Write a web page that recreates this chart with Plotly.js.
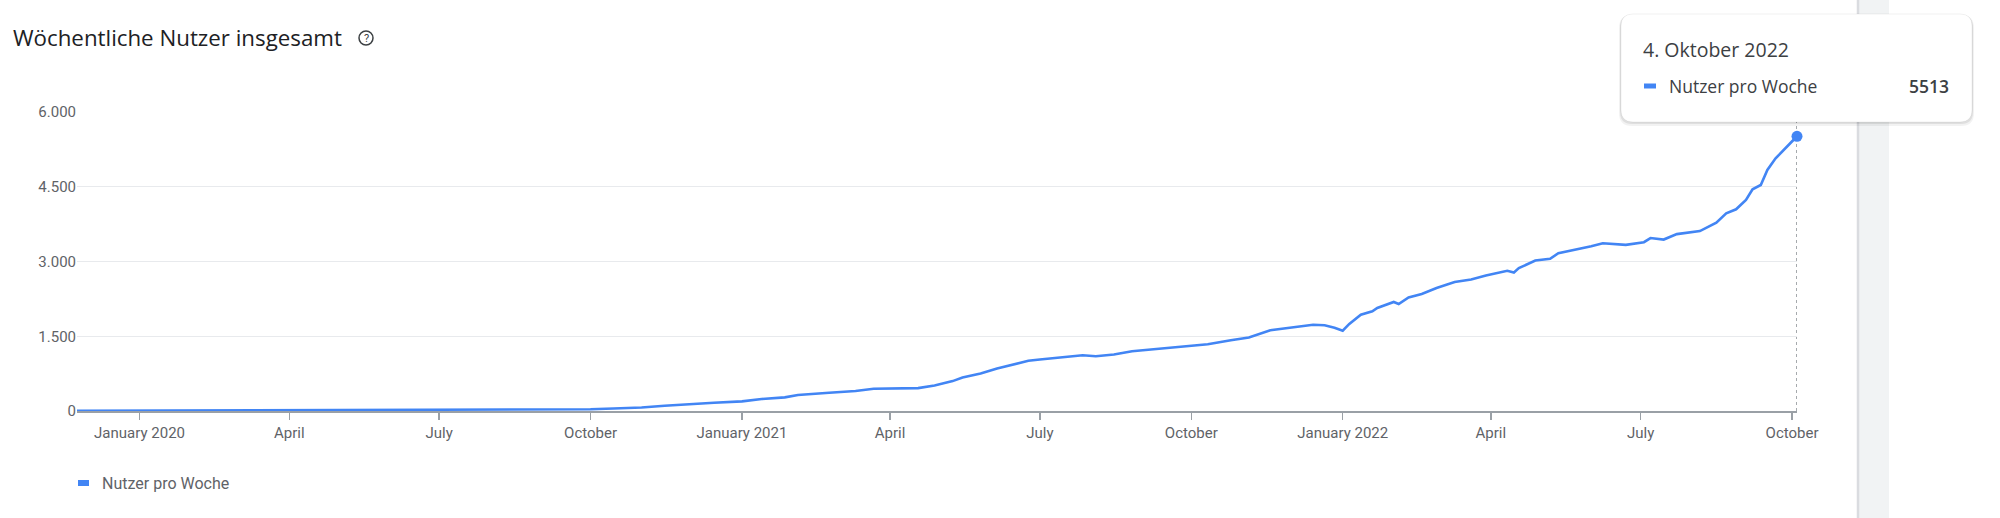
<!DOCTYPE html>
<html>
<head>
<meta charset="utf-8">
<script src="https://cdn.plot.ly/plotly-3.0.1.min.js"></script>
<style>
  html, body { margin: 0; padding: 0; background: #ffffff; }
  #chart { width: 2000px; height: 518px; }
</style>
</head>
<body>
<div id="chart"></div>
<script>
// Readings taken off the GA chart (7-day users)
var dates = [
    '2019-11-24', '2019-12-15', '2020-01-01', '2020-02-01', '2020-03-01', '2020-04-01', '2020-05-01', '2020-06-01',
    '2020-07-01', '2020-08-01', '2020-09-01', '2020-10-01', '2020-10-15', '2020-11-01', '2020-11-15', '2020-12-01',
    '2020-12-15', '2021-01-01', '2021-01-13', '2021-01-27', '2021-02-04', '2021-02-23', '2021-03-11', '2021-03-22',
    '2021-04-01', '2021-04-18', '2021-04-28', '2021-05-09', '2021-05-15', '2021-05-26', '2021-06-05', '2021-06-16',
    '2021-06-24', '2021-07-01', '2021-07-16', '2021-07-27', '2021-08-04', '2021-08-15', '2021-08-26', '2021-09-14',
    '2021-10-01', '2021-10-11', '2021-10-25', '2021-11-05', '2021-11-18', '2021-11-29', '2021-12-06', '2021-12-14',
    '2021-12-21', '2021-12-27', '2022-01-01', '2022-01-05', '2022-01-12', '2022-01-19', '2022-01-22', '2022-02-01',
    '2022-02-04', '2022-02-10', '2022-02-18', '2022-02-27', '2022-03-10', '2022-03-20', '2022-03-29', '2022-04-11',
    '2022-04-15', '2022-04-18', '2022-04-28', '2022-05-07', '2022-05-12', '2022-05-22', '2022-06-01', '2022-06-08',
    '2022-06-22', '2022-07-03', '2022-07-07', '2022-07-15', '2022-07-23', '2022-08-06', '2022-08-10', '2022-08-16',
    '2022-08-22', '2022-08-28', '2022-09-03', '2022-09-07', '2022-09-12', '2022-09-16', '2022-09-21', '2022-09-26',
    '2022-10-04'
];

var usersPerWeek = [
    5, 6, 8, 10, 12, 15, 14, 20,
    28, 26, 25, 35, 50, 70, 105, 140,
    165, 193, 240, 273, 320, 367, 400, 447,
    453, 460, 513, 600, 673, 753, 853, 940,
    1007, 1033, 1087, 1120, 1100, 1133, 1200, 1253,
    1307, 1340, 1420, 1473, 1620, 1667, 1700, 1730,
    1720, 1670, 1610, 1747, 1933, 2000, 2067, 2187,
    2147, 2280, 2347, 2467, 2587, 2640, 2720, 2813,
    2780, 2867, 3020, 3053, 3167, 3233, 3307, 3367,
    3333, 3387, 3470, 3440, 3550, 3610, 3680, 3780,
    3967, 4048, 4235, 4449, 4536, 4837, 5071, 5238,
    5513
];

var tickDates = [ '2020-01-01', '2020-04-01', '2020-07-01', '2020-10-01', '2021-01-01', '2021-04-01',
                  '2021-07-01', '2021-10-01', '2022-01-01', '2022-04-01', '2022-07-01', '2022-10-01' ];
var tickLabels = [ 'January 2020', 'April', 'July', 'October', 'January 2021', 'April',
                   'July', 'October', 'January 2022', 'April', 'July', 'October' ];

var yTicks = [ 0, 1500, 3000, 4500, 6000 ];
var seriesName = 'Nutzer pro Woche';
var chartTitle = 'Wöchentliche Nutzer insgesamt';
var monthsDe = [ 'Januar', 'Februar', 'März', 'April', 'Mai', 'Juni', 'Juli', 'August',
                 'September', 'Oktober', 'November', 'Dezember' ];

var BLUE = '#4285f4';
var GREY_TEXT = '#5f6368';

// plot box in page pixels
var PL = 77, PR = 1797, PT = 112, PB = 411;

function px( x ) {
    return ( x - PL ) / ( PR - PL );
}

function py( y ) {
    return ( PB - y ) / ( PB - PT );
}

function roundedRect( x0, y0, x1, y1, r ) {
    let p = function ( x, y ) { return px( x ) + ',' + py( y ); };
    return 'M' + p( x0 + r, y0 ) + ' L' + p( x1 - r, y0 ) + ' Q' + p( x1, y0 ) + ' ' + p( x1, y0 + r ) +
           ' L' + p( x1, y1 - r ) + ' Q' + p( x1, y1 ) + ' ' + p( x1 - r, y1 ) +
           ' L' + p( x0 + r, y1 ) + ' Q' + p( x0, y1 ) + ' ' + p( x0, y1 - r ) +
           ' L' + p( x0, y0 + r ) + ' Q' + p( x0, y0 ) + ' ' + p( x0 + r, y0 ) + ' Z';
}

function paperShape( extra ) {
    return Object.assign( { xref: 'paper', yref: 'paper', layer: 'above' }, extra );
}

var lastDate = dates[ dates.length - 1 ];
var lastValue = usersPerWeek[ usersPerWeek.length - 1 ];
var d = lastDate.split( '-' );
var tooltipTitle = parseInt( d[ 2 ], 10 ) + '. ' + monthsDe[ parseInt( d[ 1 ], 10 ) - 1 ] + ' ' + d[ 0 ];

var lineTrace = {
    x: dates,
    y: usersPerWeek,
    type: 'scatter',
    mode: 'lines',
    name: seriesName,
    line: { color: BLUE, width: 2.6 },
    cliponaxis: false,
    hoverinfo: 'skip'
};

var pointTrace = {
    x: [ lastDate ],
    y: [ lastValue ],
    type: 'scatter',
    mode: 'markers',
    marker: { color: BLUE, size: 11 },
    cliponaxis: false,
    hoverinfo: 'skip'
};

var shapes = [
    // scrollbar strip of the page
    paperShape({ type: 'rect', x0: px( 1857 ), x1: px( 1889 ), y0: py( 0 ), y1: py( 518 ),
                 fillcolor: '#f1f3f4', line: { width: 0 } }),
    paperShape({ type: 'line', x0: px( 1858 ), x1: px( 1858 ), y0: py( 0 ), y1: py( 518 ),
                 line: { color: '#dadce0', width: 2.5 } }),
    // hover guide
    { type: 'line', xref: 'x', yref: 'paper', x0: lastDate, x1: lastDate, y0: 0, y1: 1, layer: 'below',
      line: { color: '#80868b', width: 1.4, dash: 'dot' } },
    // help icon after the title
    paperShape({ type: 'circle', x0: px( 359 ), x1: px( 373 ), y0: py( 31 ), y1: py( 45 ),
                 line: { color: '#3c4043', width: 1.5 } }),
    // legend swatch
    paperShape({ type: 'line', x0: px( 78 ), x1: px( 89 ), y0: py( 483 ), y1: py( 483 ),
                 line: { color: BLUE, width: 6 } }),
    // tooltip shadow + box
    paperShape({ type: 'path', path: roundedRect( 1619, 15, 1974, 126, 13 ),
                 fillcolor: 'rgba(0,0,0,0.05)', line: { width: 0 } }),
    paperShape({ type: 'path', path: roundedRect( 1620, 15, 1973, 124, 12 ),
                 fillcolor: 'rgba(0,0,0,0.08)', line: { width: 0 } }),
    paperShape({ type: 'path', path: roundedRect( 1621, 14, 1972, 122, 12 ),
                 fillcolor: '#ffffff', line: { color: 'rgba(0,0,0,0.06)', width: 1 } }),
    paperShape({ type: 'line', x0: px( 1644 ), x1: px( 1656 ), y0: py( 86 ), y1: py( 86 ),
                 line: { color: BLUE, width: 5 } })
];

var annotations = [
    { xref: 'paper', yref: 'paper', x: px( 366 ), y: py( 38.5 ), text: '?', showarrow: false,
      font: { family: 'Roboto', size: 11, color: '#3c4043' }, xanchor: 'center', yanchor: 'middle' },
    { xref: 'paper', yref: 'paper', x: px( 100 ), y: py( 483 ), text: seriesName, showarrow: false,
      font: { family: 'Roboto', size: 16, color: GREY_TEXT }, xanchor: 'left', yanchor: 'middle' },
    { xref: 'paper', yref: 'paper', x: px( 1641 ), y: py( 50 ), text: tooltipTitle, showarrow: false,
      font: { family: 'Open Sans', size: 19.5, color: '#3c4043' }, xanchor: 'left', yanchor: 'middle' },
    { xref: 'paper', yref: 'paper', x: px( 1667 ), y: py( 86 ), text: seriesName, showarrow: false,
      font: { family: 'Open Sans', size: 17.5, color: '#3c4043' }, xanchor: 'left', yanchor: 'middle' },
    { xref: 'paper', yref: 'paper', x: px( 1951 ), y: py( 86 ), text: String( lastValue ), showarrow: false,
      font: { family: 'Open Sans', size: 17.5, color: '#3c4043', weight: 600 }, xanchor: 'right', yanchor: 'middle' }
];

var layout = {
    width: 2000,
    height: 518,
    margin: { l: PL, r: 2000 - PR, t: PT, b: 518 - PB, pad: 0 },
    paper_bgcolor: '#ffffff',
    plot_bgcolor: '#ffffff',
    separators: ',.',
    showlegend: false,
    title: {
        text: chartTitle,
        xref: 'container', yref: 'container',
        x: 13 / 2000, xanchor: 'left',
        y: 1 - 38 / 518, yanchor: 'middle',
        font: { family: 'Open Sans', size: 22.3, color: '#202124' }
    },
    xaxis: {
        type: 'date',
        range: [ dates[ 0 ], lastDate ],
        tickmode: 'array',
        tickvals: tickDates,
        ticktext: tickLabels,
        ticks: 'outside',
        ticklen: 7,
        tickwidth: 1.3,
        tickcolor: '#9aa0a6',
        showline: true,
        linecolor: '#9aa0a6',
        linewidth: 1.5,
        showgrid: false,
        zeroline: false,
        tickfont: { family: 'Roboto', size: 15, color: GREY_TEXT }
    },
    yaxis: {
        range: [ 0, 6000 ],
        tickmode: 'array',
        tickvals: yTicks,
        tickformat: ',d',
        showgrid: true,
        gridcolor: '#e8eaed',
        gridwidth: 1,
        zeroline: false,
        showline: false,
        ticks: '',
        tickfont: { family: 'Roboto', size: 15, color: GREY_TEXT }
    },
    shapes: shapes,
    annotations: annotations
};

Plotly.newPlot( 'chart', [ lineTrace, pointTrace ], layout, { displayModeBar: false, staticPlot: true } );
</script>
</body>
</html>
